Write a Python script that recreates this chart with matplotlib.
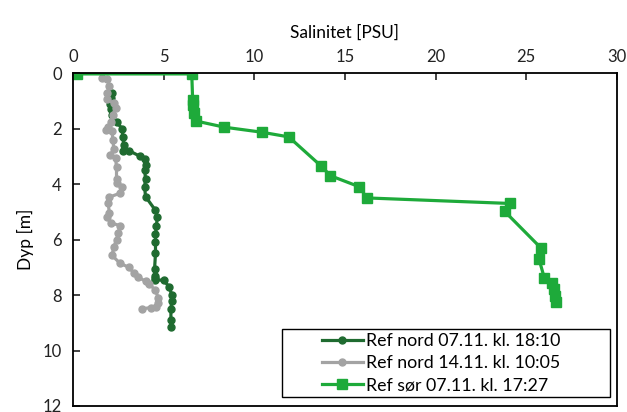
import matplotlib
matplotlib.use("Agg")
import matplotlib.pyplot as plt
from matplotlib.patches import Rectangle

plt.rcParams["font.family"] = ["Lato", "DejaVu Sans"]

# Ref nord 07.11. kl. 18:10
nord_0711_sal = [2.15, 2.1, 2.05, 2.1, 2.15, 2.4, 2.7, 2.75, 2.8, 2.75, 3.1, 3.7, 3.95, 4.0,
                 3.95, 4.0, 3.95, 4.0, 4.55, 4.65, 4.6, 4.55, 4.55, 4.55, 4.5, 4.55, 4.5, 4.55,
                 5.0, 5.3, 5.45, 5.45, 5.4, 5.4, 5.4]
nord_0711_dyp = [0.72, 0.9, 1.1, 1.3, 1.5, 1.75, 2.0, 2.3, 2.6, 2.8, 2.8, 3.0, 3.1, 3.3,
                 3.5, 3.8, 4.1, 4.45, 4.95, 5.2, 5.5, 5.8, 6.1, 6.5, 7.05, 7.3, 7.4, 7.45,
                 7.47, 7.7, 8.0, 8.2, 8.5, 8.9, 9.17]

# Ref nord 14.11. kl. 10:05
nord_1411_sal = [1.6, 1.9, 2.0, 1.9, 1.85, 2.25, 2.35, 2.2, 2.1, 1.95, 1.8, 2.15, 2.2, 2.25,
                 2.05, 2.35, 2.4, 2.4, 2.45, 2.7, 2.6, 2.0, 1.95, 2.0, 1.85, 2.1, 2.6, 2.5,
                 2.4, 2.25, 2.15, 2.6, 3.08, 3.35, 3.6, 4.0, 4.2, 4.55, 4.7, 4.7, 4.6, 4.3,
                 3.8]
nord_1411_dyp = [0.18, 0.2, 0.45, 0.7, 0.95, 1.08, 1.25, 1.5, 1.75, 1.95, 2.06, 2.1, 2.4, 2.75,
                 2.95, 3.07, 3.4, 3.8, 3.97, 4.1, 4.33, 4.47, 4.7, 5.05, 5.2, 5.4, 5.5, 5.75,
                 6.0, 6.28, 6.57, 6.86, 7.0, 7.2, 7.36, 7.5, 7.6, 7.83, 8.1, 8.3, 8.42, 8.45,
                 8.5]

# Ref sør 07.11. kl. 17:27
sor_0711_sal = [0.2, 6.55, 6.6, 6.6, 6.65, 6.8, 8.35, 10.4, 11.9, 13.7, 14.2, 15.8, 16.2,
                24.1, 23.8, 25.8, 25.7, 26.0, 26.4, 26.5, 26.6, 26.65]
sor_0711_dyp = [0.03, 0.03, 0.97, 1.15, 1.45, 1.73, 1.95, 2.13, 2.3, 3.36, 3.7, 4.1, 4.5,
                4.7, 4.98, 6.3, 6.7, 7.4, 7.55, 7.8, 8.05, 8.25]

fig = plt.figure(figsize=(6.27, 4.12), dpi=100)
ax = fig.add_axes([0.1164, 0.0146, 0.8676, 0.808])

ax.plot(nord_0711_sal, nord_0711_dyp, color="#1f6b30", lw=2.3, marker="o", ms=5,
        label="Ref nord 07.11. kl. 18:10")
ax.plot(nord_1411_sal, nord_1411_dyp, color="#a3a3a3", lw=2.3, marker="o", ms=5,
        label="Ref nord 14.11. kl. 10:05")
ax.plot(sor_0711_sal, sor_0711_dyp, color="#1eaa3a", lw=2.3, marker="s", ms=6.5,
        label="Ref sør 07.11. kl. 17:27")

ax.set_xlim(0, 30)
ax.set_ylim(12, 0)
ax.set_xticks(range(0, 31, 5))
ax.set_yticks(range(0, 13, 2))
ax.xaxis.tick_top()
ax.xaxis.set_label_position("top")
ax.tick_params(direction="in", length=5, width=1.2, labelsize=12, colors="#222222")
ax.tick_params(axis="x", pad=6)
ax.tick_params(axis="y", pad=8)
for s in ax.spines.values():
    s.set_linewidth(1.3)
    s.set_color("black")

ax.set_xlabel("Salinitet [PSU]", fontsize=12.5, labelpad=8)
ax.set_ylabel("Dyp [m]", fontsize=12.5, labelpad=6)

# legend box drawn separately so the entries sit centred with wide side margins
ax.add_patch(Rectangle((0.384, 0.027), 0.603, 0.204, transform=ax.transAxes,
                       facecolor="white", edgecolor="black", lw=1.0, zorder=4))
leg = ax.legend(loc="center left", bbox_to_anchor=(0.4577, 0.129), borderaxespad=0,
                borderpad=0, frameon=False, fontsize=12.8, handlelength=2.3,
                handletextpad=0.2, labelspacing=0.35)
leg.set_zorder(5)

fig.savefig("out.png", dpi=100)
